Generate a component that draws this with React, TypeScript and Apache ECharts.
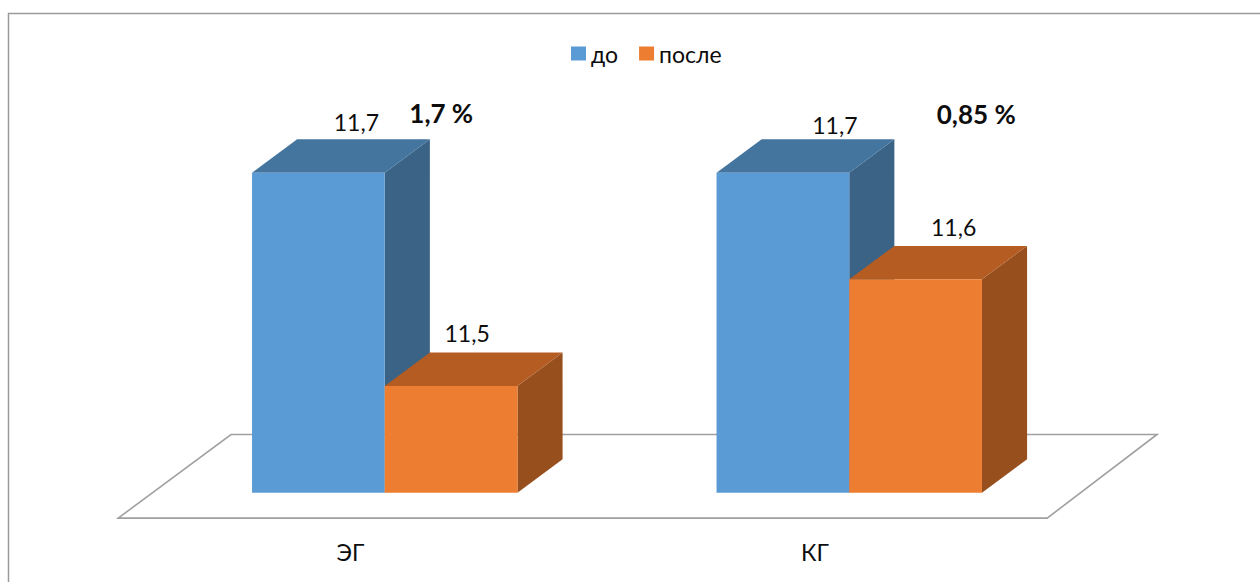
import React, { useEffect, useRef } from "react";
import * as echarts from "echarts";

// Groups and measurements
const categories = ["ЭГ", "КГ"];
const seriesNames = ["до", "после"];
const beforeValues = [11.7, 11.7];
const afterValues = [11.5, 11.6];
const changeLabels = ["1,7 %", "0,85 %"];

const Y_MIN = 11.4;
const Y_MAX = 11.8;

const FONT = "Lato, 'Noto Sans', sans-serif";
const TEXT_COLOR = "#0d0d0d";

// Shaded faces of each 3D column: front, top, right side
const FACE_COLORS = [
  { front: "#5B9BD5", top: "#44759F", side: "#3A6386" },
  { front: "#ED7D31", top: "#B45C22", side: "#984F1E" },
];

// Depth of a column, as a share of its width (oblique projection)
const DEPTH_X = 0.34;
const DEPTH_Y = -0.252;
// Floor extends this many column depths in front of / behind the columns
const FLOOR_FRONT = -0.76;
const FLOOR_BACK = 1.74;

// Value label placement: [dx from front-face centre, dy from back-top edge]
const VALUE_LABEL_NUDGE = [
  [[38, -17], [52, -14]],
  [[16, -20], [38, -19]],
];
// Change label placement: [dx from group centre, dy from back-top of "до" column]
const CHANGE_LABEL_NUDGE = [[56.5, -26.7], [127, -25]];

const fmt = (v: number) => v.toFixed(1).replace(".", ",");

function barGeometry(api: any, seriesIdx: number, catIdx: number, value: number) {
  const band = api.size([1, 0])[0];
  const barW = band / 3.5;
  const [cx, ty] = api.coord([catIdx, value]);
  const by = api.coord([catIdx, Y_MIN])[1];
  const x0 = seriesIdx === 0 ? cx - barW : cx;
  const dx = barW * DEPTH_X;
  const dy = barW * DEPTH_Y;
  return { band, barW, cx, ty, by, x0, dx, dy };
}

function makeBarSeries(seriesIdx: number, values: number[]) {
  const colors = FACE_COLORS[seriesIdx];
  return {
    type: "custom",
    name: seriesNames[seriesIdx],
    itemStyle: { color: colors.front },
    data: values.map((v, i) => [i, v]),
    encode: { x: 0, y: 1 },
    z: 2 + seriesIdx,
    renderItem: (params: any, api: any) => {
      const catIdx = api.value(0);
      const value = api.value(1);
      const g = barGeometry(api, seriesIdx, catIdx, value);
      const { barW, ty, by, x0, dx, dy } = g;
      const nudge = VALUE_LABEL_NUDGE[seriesIdx][catIdx];
      return {
        type: "group",
        children: [
          {
            type: "polygon",
            shape: {
              points: [
                [x0 + barW, ty],
                [x0 + barW + dx, ty + dy],
                [x0 + barW + dx, by + dy],
                [x0 + barW, by],
              ],
            },
            style: { fill: colors.side },
          },
          {
            type: "polygon",
            shape: {
              points: [
                [x0, ty],
                [x0 + barW, ty],
                [x0 + barW + dx, ty + dy],
                [x0 + dx, ty + dy],
              ],
            },
            style: { fill: colors.top },
          },
          {
            type: "rect",
            shape: { x: x0, y: ty, width: barW, height: by - ty },
            style: { fill: colors.front },
          },
          {
            type: "text",
            x: x0 + barW / 2 + nudge[0],
            y: ty + dy + nudge[1],
            style: {
              text: fmt(value),
              fontFamily: FONT,
              fontSize: 23,
              fill: TEXT_COLOR,
              align: "center",
              verticalAlign: "middle",
            },
          },
        ],
      };
    },
  };
}

// Floor plane, group names under it and the relative change above each group
const floorSeries = {
  type: "custom",
  name: "floor",
  data: [[0, Y_MIN]],
  encode: { x: 0, y: 1 },
  z: 1,
  silent: true,
  renderItem: (params: any, api: any) => {
    const cs = params.coordSys;
    const band = api.size([1, 0])[0];
    const barW = band / 3.5;
    const dx = barW * DEPTH_X;
    const dy = barW * DEPTH_Y;
    const by = api.coord([0, Y_MIN])[1];
    const left = cs.x;
    const right = cs.x + cs.width;
    const fdx = dx * FLOOR_FRONT;
    const fdy = dy * FLOOR_FRONT;
    const bdx = dx * FLOOR_BACK;
    const bdy = dy * FLOOR_BACK;
    const children: any[] = [
      {
        type: "polygon",
        shape: {
          points: [
            [left + fdx, by + fdy],
            [right + fdx, by + fdy],
            [right + bdx - 3, by + bdy],
            [left + bdx, by + bdy],
          ],
        },
        style: { fill: "#ffffff", stroke: "#a0a0a0", lineWidth: 1.6 },
      },
    ];
    categories.forEach((name, i) => {
      const cx = api.coord([i, Y_MIN])[0];
      children.push({
        type: "text",
        x: cx + fdx,
        y: by + fdy + 34,
        style: {
          text: name,
          fontFamily: FONT,
          fontSize: 23,
          fill: TEXT_COLOR,
          align: "center",
          verticalAlign: "middle",
        },
      });
      const topY = api.coord([i, beforeValues[i]])[1];
      const n = CHANGE_LABEL_NUDGE[i];
      children.push({
        type: "text",
        x: cx + n[0],
        y: topY + dy + n[1],
        z2: 10,
        style: {
          text: changeLabels[i],
          fontFamily: FONT,
          fontSize: 26,
          fontWeight: "bold",
          fill: TEXT_COLOR,
          align: "center",
          verticalAlign: "middle",
        },
      });
    });
    return { type: "group", children };
  },
};

export default function App() {
  const ref = useRef<HTMLDivElement>(null);

  useEffect(() => {
    document.body.style.margin = "0";
    if (!ref.current) return;
    const chart = echarts.init(ref.current, null, { renderer: "svg" });
    chart.setOption({
      animation: false,
      backgroundColor: "#ffffff",
      legend: {
        data: seriesNames,
        left: 566,
        top: 37,
        icon: "rect",
        itemWidth: 15,
        itemHeight: 14,
        itemGap: 21,
        textStyle: { fontFamily: FONT, fontSize: 23, color: TEXT_COLOR },
      },
      grid: { left: 152.5, width: 929, top: 66, bottom: 89.3 },
      xAxis: { type: "category", data: categories, show: false },
      yAxis: { type: "value", min: Y_MIN, max: Y_MAX, show: false },
      graphic: [
        {
          type: "rect",
          shape: { x: 8.5, y: 13.5, width: 1300, height: 620 },
          style: { fill: "none", stroke: "#9a9a9a", lineWidth: 1.5 },
          silent: true,
        },
      ],
      series: [floorSeries, makeBarSeries(0, beforeValues), makeBarSeries(1, afterValues)],
    });
    return () => chart.dispose();
  }, []);

  return <div ref={ref} style={{ width: 1260, height: 582 }} />;
}
